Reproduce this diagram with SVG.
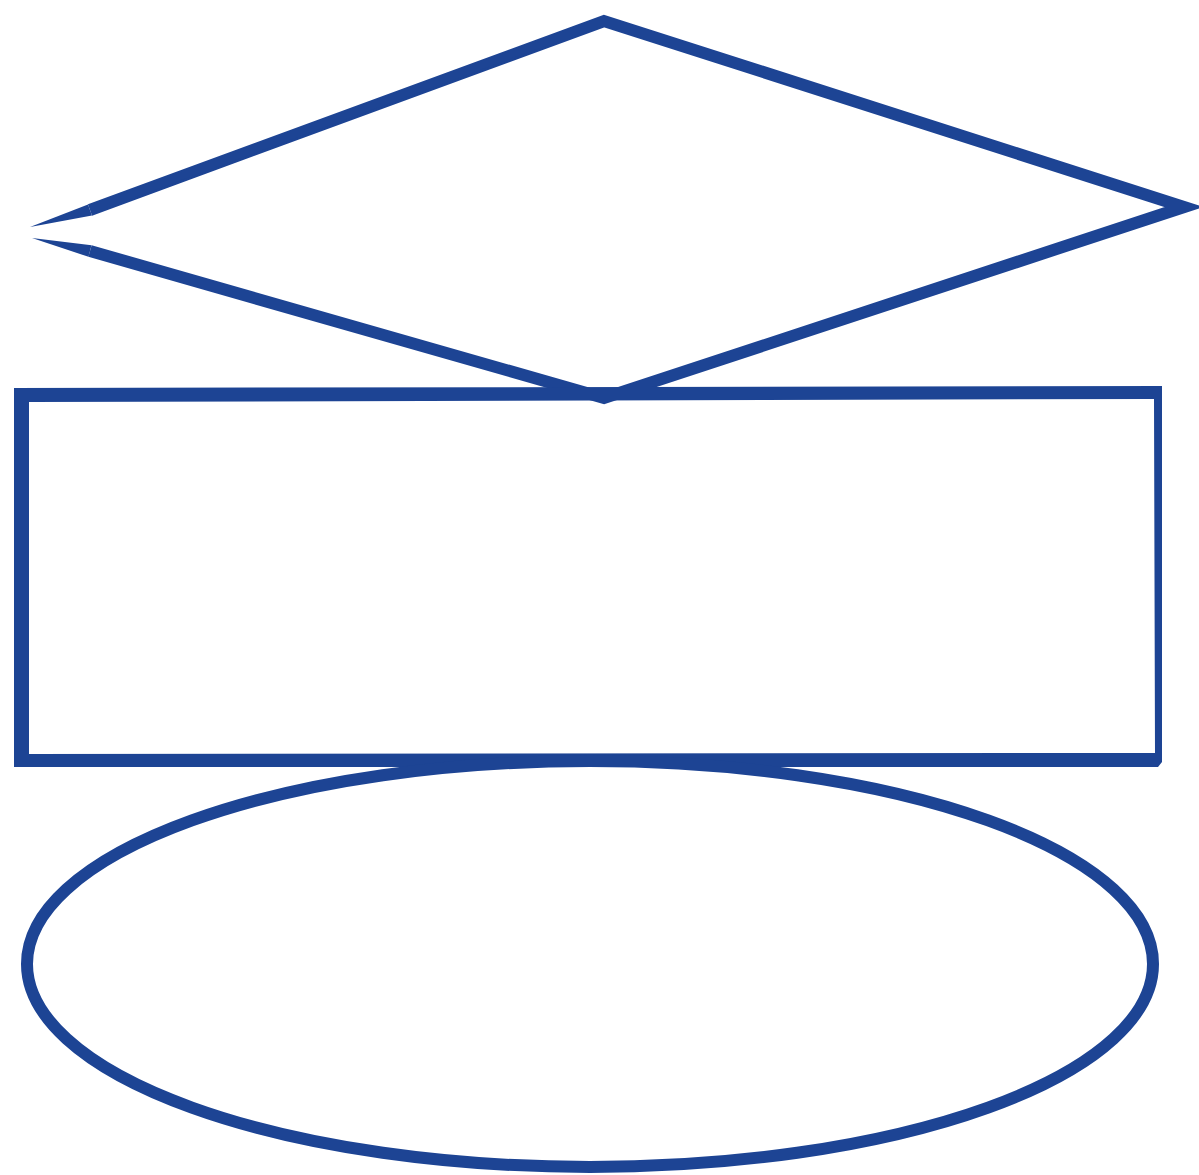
<svg xmlns="http://www.w3.org/2000/svg" width="1199" height="1175" viewBox="0 0 1199 1175">
<style>
.ink{fill:#1d4494;stroke:none}
.line{fill:none;stroke:#1d4494;stroke-linejoin:miter;stroke-miterlimit:12}
</style>
<rect width="1199" height="1175" fill="#ffffff"/>
<g id="diamond">
<path class="line" d="M90,210 L604,21 L1184,207 L604,398 L90,251" stroke-width="12"/>
<polygon class="ink" points="30,227 88,204.5 92,215.5"/>
<polygon class="ink" points="32,238 91.5,245.2 88.5,256.8"/>
<path class="line" d="M130,200 L330,126 L545,47" stroke-width="1.5" stroke-linecap="round"/>
</g>
<g id="rectangle">
<path class="ink" fill-rule="evenodd" d="M14,388 L1162,386 L1162,762 L1158,767 L14,767 Z M29,402 L1154,399 L1155,753 L29,754 Z"/>
</g>
<g id="ellipse">
<ellipse class="line" cx="590" cy="964" rx="563" ry="203" stroke-width="12"/>
</g>
<g id="connectors"></g>
</svg>
